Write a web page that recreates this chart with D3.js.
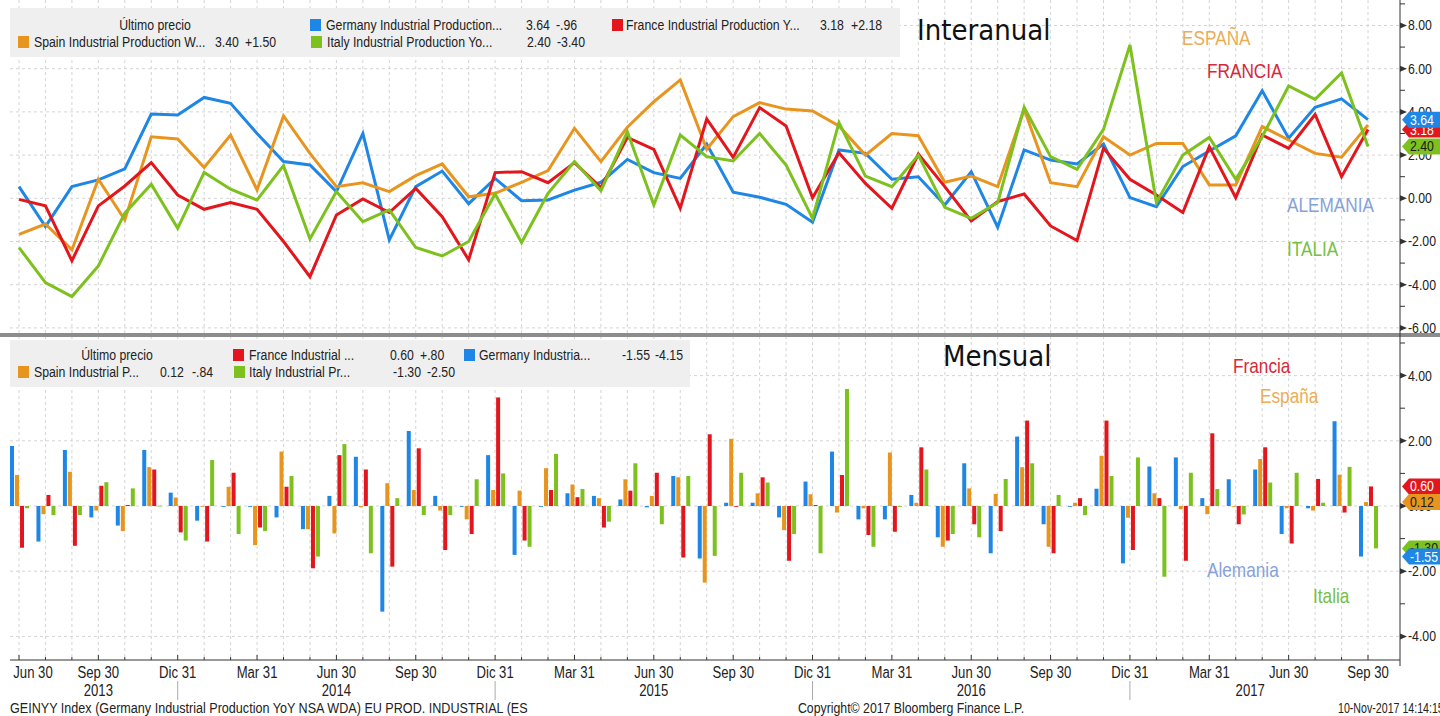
<!doctype html>
<html lang="es">
<head>
<meta charset="UTF-8">
<title>Producción industrial</title>
<style>
  body { margin: 0; background: #fff; }
  svg text { font-family: "Liberation Sans", Arial, sans-serif; }
</style>
</head>
<body>
<div id="chart"></div>
<script src="https://d3js.org/d3.v7.min.js"></script>
<script>
// months Jun 2013 .. Sep 2017
const months = ['2013-06','2013-07','2013-08','2013-09','2013-10','2013-11','2013-12',
  '2014-01','2014-02','2014-03','2014-04','2014-05','2014-06','2014-07','2014-08','2014-09','2014-10','2014-11','2014-12',
  '2015-01','2015-02','2015-03','2015-04','2015-05','2015-06','2015-07','2015-08','2015-09','2015-10','2015-11','2015-12',
  '2016-01','2016-02','2016-03','2016-04','2016-05','2016-06','2016-07','2016-08','2016-09','2016-10','2016-11','2016-12',
  '2017-01','2017-02','2017-03','2017-04','2017-05','2017-06','2017-07','2017-08','2017-09']

const tickMonths = ['2013-06','2013-09','2013-12','2014-03','2014-06','2014-09','2014-12','2015-03','2015-06','2015-09','2015-12',
  '2016-03','2016-06','2016-09','2016-12','2017-03','2017-06','2017-09']
const tickNames = {'03': 'Mar 31', '06': 'Jun 30', '09': 'Sep 30', '12': 'Dic 31'}
const years = ['2013','2014','2015','2016','2017']
const yearLabelMonth = ['2013-09','2014-06','2015-06','2016-06','2017-05']
const yearBreaks = ['2013-12','2014-12','2015-12','2016-12']

// Interanual (YoY)
const germanyYoY = [0.54,-1.31,0.54,0.85,1.36,3.90,3.86,4.67,4.40,3.00,1.70,1.54,0.31,3.00,-1.93,0.54,1.26,-0.25,
  0.92,-0.11,-0.08,0.38,0.74,1.80,1.19,0.92,2.51,0.28,0.05,-0.28,-1.11,2.24,2.08,0.88,1.00,-0.31,
  1.23,-1.34,2.24,1.77,1.59,2.51,0.03,-0.39,1.47,2.19,2.89,4.98,2.78,4.21,4.60,3.64]
const spainYoY = [-1.67,-1.19,-2.39,0.88,-1.00,2.85,2.75,1.43,2.93,0.39,3.81,2.08,0.54,0.72,0.31,1.05,1.59,0.07,
  0.23,0.74,1.28,3.24,1.70,3.29,4.47,5.48,2.27,3.78,4.43,4.13,4.04,3.35,2.00,3.00,2.90,0.74,
  1.03,0.54,4.12,0.72,0.54,2.85,2.00,2.54,2.54,0.62,0.62,3.32,2.70,2.08,1.90,3.40]
const franceYoY = [-0.05,-0.35,-2.89,-0.35,0.57,1.65,0.15,-0.51,-0.20,-0.51,-2.00,-3.63,-0.77,-0.03,-0.66,0.46,-0.85,-2.85,
  1.19,1.23,0.72,1.65,0.50,2.82,2.27,-0.46,3.67,1.89,4.20,3.35,0.03,2.11,0.69,-0.46,2.05,0.54,
  -1.05,-0.15,0.20,-1.28,-1.96,2.31,0.88,0.15,-0.66,2.39,0.03,2.93,2.31,3.88,1.00,3.18]
const italyYoY = [-2.28,-3.90,-4.55,-3.13,-0.69,0.65,-1.39,1.20,0.42,-0.08,1.51,-1.88,0.31,-1.08,-0.54,-2.28,-2.67,-2.00,
  0.20,-2.05,0.23,1.70,0.35,3.08,-0.31,2.93,1.93,1.73,3.00,1.54,-0.93,3.50,1.03,0.54,2.00,-0.42,
  -0.93,-0.20,4.21,1.93,1.34,3.19,7.10,-0.20,2.00,2.82,0.88,2.85,5.20,4.58,5.80,2.40]

// Mensual (MoM)
const germanyMoM = [1.84,-1.09,1.72,-0.35,-0.60,1.72,0.41,-0.45,-0.02,-0.02,-0.35,-0.71,0.31,1.51,-3.24,2.30,0.31,-0.02,
  1.56,-1.50,-0.02,0.39,0.31,0.20,-0.04,0.92,-1.61,0.10,0.10,-0.35,0.75,1.67,-0.41,-0.41,0.34,-0.96,
  1.31,-1.45,2.13,-0.56,-0.02,0.53,-1.76,1.21,1.49,0.24,0.82,1.12,-0.86,-0.07,2.60,-1.55]
const spainMoM = [0.95,-0.25,1.05,-0.14,-0.77,1.19,0.26,0.00,0.59,-1.20,1.67,-0.71,-0.84,-0.04,0.70,0.49,-0.14,-0.41,
  0.49,0.47,1.16,0.66,0.24,0.82,0.31,0.88,-2.35,2.06,0.39,-0.74,0.36,-0.20,-0.07,1.64,0.10,-1.25,
  0.54,0.37,1.19,-1.25,0.10,1.54,-0.36,0.39,-0.10,-0.25,-0.02,1.44,-0.07,-0.14,0.96,0.12]
const franceMoM = [-1.28,0.34,-1.22,0.62,0.03,1.12,-0.81,-1.09,1.02,-0.66,0.59,-1.91,1.56,1.12,-1.86,1.77,-1.35,-0.86,
  3.33,-1.06,0.49,0.27,-0.66,0.47,1.02,-1.58,2.20,-0.02,0.88,-1.68,0.03,0.95,-0.89,-0.79,1.80,-1.06,
  -0.56,-0.77,2.62,-1.45,0.24,2.62,-1.35,0.24,-1.68,2.23,-0.56,1.80,-1.15,0.83,-0.20,0.60]
const italyMoM = [-0.07,-0.28,-0.28,0.73,0.54,0.01,-1.06,1.41,-0.86,-0.77,0.92,-1.55,1.90,-1.45,0.24,-0.28,-0.28,0.82,
  1.00,-1.25,1.60,0.52,-0.48,1.31,-0.56,0.92,-1.53,1.02,0.72,-0.86,-1.45,3.59,-1.25,0.00,1.12,-0.86,
  -0.96,0.83,1.31,0.34,-0.28,0.92,1.49,-2.17,1.02,0.52,-0.26,0.72,1.02,0.10,1.20,-1.30]

const colors = {de: '#1e86e4', es: '#e8951f', fr: '#e2161c', it: '#7cc11d'}

const series = [
  {key: 'de', yoy: germanyYoY, mom: germanyMoM},
  {key: 'es', yoy: spainYoY, mom: spainMoM},
  {key: 'fr', yoy: franceYoY, mom: franceMoM},
  {key: 'it', yoy: italyYoY, mom: italyMoM}
]

const W = 1440, H = 716
const left = 10, axisX = 1400, axisY = 660
const narrow = 0.82   // squeeze Liberation Sans to a narrow face

const fmt = v => d3.format('.2f')(v).replace('\u2212', '-')

const svg = d3.select('#chart').append('svg')
  .attr('width', W).attr('height', H)

// narrow text helper
function ntext(sel, x, y, size, str, opts) {
  opts = opts || {}
  return sel.append('text')
    .attr('transform', `translate(${x},${y}) scale(${opts.sx || narrow},1)`)
    .attr('font-size', size)
    .attr('fill', opts.fill || '#222')
    .attr('text-anchor', opts.anchor || 'start')
    .text(str)
}

const x = d3.scalePoint().domain(months).range([19, 1368])
const yTop = d3.scaleLinear().domain([-6.236, 9.18]).range([333, 0])
const yBot = d3.scaleLinear().domain([-4.724, 5.184]).range([660, 337])
const xb = d3.scaleBand().domain(['de','es','fr','it']).range([-9.5, 10.5]).paddingInner(0.2).paddingOuter(0.1)

// vertical grid
svg.append('g').selectAll('line').data(months).join('line')
  .attr('x1', d => x(d)).attr('x2', d => x(d))
  .attr('y1', 0).attr('y2', axisY)
  .attr('stroke', '#d4d4d4').attr('stroke-dasharray', '3,3')

// horizontal grid
svg.append('g').selectAll('line').data(d3.range(-6, 9, 2)).join('line')
  .attr('x1', left).attr('x2', axisX).attr('y1', d => yTop(d)).attr('y2', d => yTop(d))
  .attr('stroke', '#d4d4d4').attr('stroke-dasharray', '3,3')
svg.append('g').selectAll('line').data(d3.range(-4, 5, 2)).join('line')
  .attr('x1', left).attr('x2', axisX).attr('y1', d => yBot(d)).attr('y2', d => yBot(d))
  .attr('stroke', '#d4d4d4').attr('stroke-dasharray', '3,3')

// legend backgrounds
svg.append('rect').attr('x', left).attr('y', 8).attr('width', 890).attr('height', 49).attr('fill', '#efefef')
svg.append('rect').attr('x', left).attr('y', 340).attr('width', 680).attr('height', 47).attr('fill', '#efefef')

// lines
const line = d3.line().x((d, i) => x(months[i])).y(d => yTop(d))
svg.append('g').selectAll('path').data(series).join('path')
  .attr('d', d => line(d.yoy))
  .attr('fill', 'none').attr('stroke', d => colors[d.key])
  .attr('stroke-width', 3).attr('stroke-linejoin', 'miter')

// bars
const barData = []
series.forEach(s => s.mom.forEach((v, i) => barData.push({key: s.key, m: months[i], v: v})))
svg.append('g').selectAll('rect').data(barData).join('rect')
  .attr('x', d => x(d.m) + xb(d.key))
  .attr('width', xb.bandwidth())
  .attr('y', d => yBot(Math.max(0, d.v)))
  .attr('height', d => Math.max(0.8, Math.abs(yBot(d.v) - yBot(0))))
  .attr('fill', d => colors[d.key])

// divider
svg.append('rect').attr('x', 0).attr('y', 333).attr('width', W).attr('height', 4).attr('fill', '#8c8c8c')

// right axis
svg.append('line').attr('x1', axisX).attr('x2', axisX).attr('y1', 0).attr('y2', axisY + 6)
  .attr('stroke', '#333')

function rightAxis(y, major, minor) {
  const g = svg.append('g')
  g.selectAll('line').data(minor).join('line')
    .attr('x1', axisX).attr('x2', axisX + 5).attr('y1', d => y(d)).attr('y2', d => y(d))
    .attr('stroke', '#333')
  g.selectAll('path').data(major).join('path')
    .attr('d', d => `M${axisX},${y(d) - 3}L${axisX + 7},${y(d)}L${axisX},${y(d) + 3}Z`)
    .attr('fill', '#333')
  major.forEach(d => ntext(g, axisX + 8, y(d) + 5, 15, fmt(d)))
}
rightAxis(yTop, d3.range(-6, 9, 2), d3.range(-5, 10, 2))
rightAxis(yBot, d3.range(-4, 5, 2), d3.range(-3, 6, 2))

// value tags on the axis
function tag(y, v, col, txtCol) {
  const yy = y(v)
  svg.append('path')
    .attr('d', `M${axisX + 2},${yy}L${axisX + 9},${yy - 8}L${W},${yy - 8}L${W},${yy + 8}L${axisX + 9},${yy + 8}Z`)
    .attr('fill', col)
  ntext(svg, axisX + 10, yy + 5, 15, fmt(v), {fill: txtCol})
}
tag(yTop, franceYoY[51], colors.fr, '#fff')
tag(yTop, germanyYoY[51], colors.de, '#fff')
tag(yTop, italyYoY[51], colors.it, '#1a1a1a')
tag(yBot, franceMoM[51], colors.fr, '#fff')
tag(yBot, spainMoM[51], colors.es, '#1a1a1a')
tag(yBot, italyMoM[51], colors.it, '#1a1a1a')
tag(yBot, germanyMoM[51], colors.de, '#fff')

// bottom axis
svg.append('line').attr('x1', left).attr('x2', axisX).attr('y1', axisY).attr('y2', axisY).attr('stroke', '#333')
svg.append('g').selectAll('line').data(months).join('line')
  .attr('x1', d => x(d)).attr('x2', d => x(d))
  .attr('y1', axisY).attr('y2', d => tickMonths.includes(d) ? axisY - 5 : axisY - 3)
  .attr('stroke', '#333')
const gx = svg.append('g')
tickMonths.forEach((d, i) => ntext(gx, i === 0 ? x(d) + 14 : x(d), 678, 16, tickNames[d.slice(5)], {anchor: 'middle'}))
years.forEach((d, i) => ntext(gx, x(yearLabelMonth[i]) + (i === 4 ? -12 : 0), 696, 16, d, {anchor: 'middle'}))
svg.append('g').selectAll('line').data(yearBreaks).join('line')
  .attr('x1', d => x(d)).attr('x2', d => x(d)).attr('y1', 681).attr('y2', 700)
  .attr('stroke', '#aaa')

// footer
ntext(svg, left, 713, 15, 'GEINYY Index (Germany Industrial Production YoY NSA WDA) EU PROD. INDUSTRIAL (ES', {sx: 0.84})
ntext(svg, 798, 713, 15, 'Copyright\u00a9 2017 Bloomberg Finance L.P.')
ntext(svg, 1338, 713, 14, '10-Nov-2017 14:14:15', {sx: 0.76})

// legends
function legendRow(items, y) {
  items.forEach(it => {
    if (it.key) {
      svg.append('rect').attr('x', it.sx).attr('y', y - 11).attr('width', 11).attr('height', 12)
        .attr('fill', colors[it.key])
    }
    ntext(svg, it.tx, y, 15, it.text, {anchor: it.anchor})
    if (it.v1) {
      ntext(svg, it.v1x, y, 15, it.v1)
      ntext(svg, it.v2x, y, 15, it.v2)
    }
  })
}
legendRow([
  {tx: 155, anchor: 'middle', text: 'Último precio'},
  {key: 'de', sx: 310, tx: 326, text: 'Germany Industrial Production...', v1: '3.64', v1x: 526, v2: '-.96', v2x: 556},
  {key: 'fr', sx: 612, tx: 626, text: 'France Industrial Production Y...', v1: '3.18', v1x: 820, v2: '+2.18', v2x: 851}
], 30)
legendRow([
  {key: 'es', sx: 18, tx: 34, text: 'Spain Industrial Production W...', v1: '3.40', v1x: 215, v2: '+1.50', v2x: 245},
  {key: 'it', sx: 311, tx: 327, text: 'Italy Industrial Production Yo...', v1: '2.40', v1x: 527, v2: '-3.40', v2x: 557}
], 47)
legendRow([
  {tx: 117, anchor: 'middle', text: 'Último precio'},
  {key: 'fr', sx: 233, tx: 249, text: 'France Industrial ...', v1: '0.60', v1x: 390, v2: '+.80', v2x: 420},
  {key: 'de', sx: 464, tx: 479, text: 'Germany Industria...', v1: '-1.55', v1x: 622, v2: '-4.15', v2x: 655}
], 360)
legendRow([
  {key: 'es', sx: 18, tx: 34, text: 'Spain Industrial P...', v1: '0.12', v1x: 160, v2: '-.84', v2x: 192},
  {key: 'it', sx: 234, tx: 249, text: 'Italy Industrial Pr...', v1: '-1.30', v1x: 393, v2: '-2.50', v2x: 427}
], 377)

// titles
svg.append('text').attr('x', 917).attr('y', 40).attr('fill', '#111')
  .style('font-family', '"DejaVu Sans Condensed", sans-serif').attr('font-size', 29).text('Interanual')
svg.append('text').attr('x', 943).attr('y', 366).attr('fill', '#111')
  .style('font-family', '"DejaVu Sans Condensed", sans-serif').attr('font-size', 29).text('Mensual')

// annotations
const notes = [
  {t: 'ESPAÑA', x: 1182, y: 45, c: '#eaad55'},
  {t: 'FRANCIA', x: 1207, y: 78, c: '#d5283a'},
  {t: 'ALEMANIA', x: 1287, y: 212, c: '#87a2da'},
  {t: 'ITALIA', x: 1287, y: 256, c: '#76c043'},
  {t: 'Francia', x: 1233, y: 373, c: '#d5283a'},
  {t: 'España', x: 1260, y: 403, c: '#eaad55'},
  {t: 'Alemania', x: 1207, y: 577, c: '#87a2da'},
  {t: 'Italia', x: 1313, y: 603, c: '#76c043'}
]
const gn = svg.append('g')
notes.forEach(d => ntext(gn, d.x, d.y, 21, d.t, {fill: d.c}))
</script>
</body>
</html>
